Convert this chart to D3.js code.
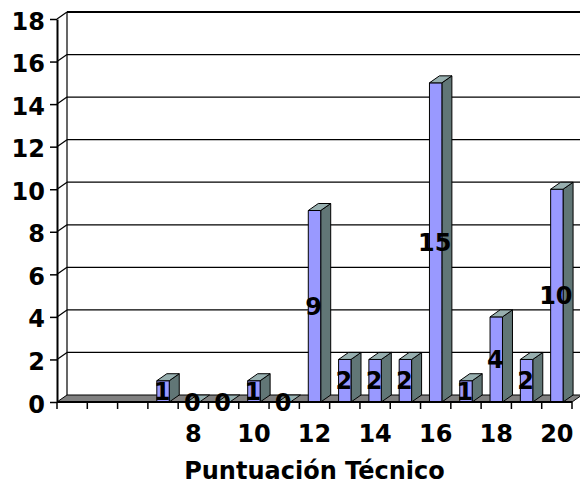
<!DOCTYPE html>
<html>
<head>
<meta charset="utf-8">
<script src="https://cdn.jsdelivr.net/npm/d3@7/dist/d3.min.js"></script>
<style>
  html, body { margin: 0; padding: 0; background: #fff; }
  svg { display: block; }
  text { font-family: "DejaVu Sans", Verdana, sans-serif; font-weight: bold; fill: #000; }
</style>
</head>
<body>
<script>
// Scores (categories) and how many times each was obtained
const scores = [4, 5, 6, 7, 8, 9, 10, 11, 12, 13, 14, 15, 16, 17, 18, 19, 20];
const counts = [null, null, null, 1, 0, 0, 1, 0, 9, 2, 2, 2, 15, 1, 4, 2, 10];
const xTickLabels = [8, 10, 12, 14, 16, 18, 20];
const yTicks = [0, 2, 4, 6, 8, 10, 12, 14, 16, 18];
const xTitle = "Puntuación Técnico";

const W = 580, H = 499;
const depthX = 10, depthY = -7;   // offset of the back wall from the front plane

const svg = d3.select("body").append("svg").attr("width", W).attr("height", H);

const x = d3.scaleBand().domain(scores).range([57, 572]).padding(0);
const y = d3.scaleLinear().domain([0, 18]).range([402, 19]);

const x0 = x.range()[0], x1 = x.range()[1];
const y0 = y(0);

// Back wall and left side wall with gridlines
const walls = svg.append("g").attr("fill", "none").attr("stroke", "#000");
yTicks.forEach(v => {
  if (v === 0) return;
  walls.append("line")
    .attr("x1", x0 + depthX).attr("x2", x1 + depthX)
    .attr("y1", y(v) + depthY).attr("y2", y(v) + depthY)
    .attr("stroke-width", v === 18 ? 2 : 1.3);
  walls.append("line")
    .attr("x1", x0).attr("y1", y(v))
    .attr("x2", x0 + depthX).attr("y2", y(v) + depthY)
    .attr("stroke-width", 1.2);
});
walls.append("line")
  .attr("x1", x0 + depthX).attr("x2", x0 + depthX)
  .attr("y1", y(0) + depthY).attr("y2", y(18) + depthY)
  .attr("stroke-width", 1.2);

// Floor
svg.append("path")
  .attr("d", `M${x0},${y0}L${x0 + depthX},${y0 + depthY}L${x1 + depthX},${y0 + depthY}L${x1},${y0}Z`)
  .attr("fill", "#808080").attr("stroke", "#000").attr("stroke-width", 1);

// Bars as 3D boxes
const barW = x.bandwidth() * 0.41;
const bars = svg.append("g").attr("stroke", "#000").attr("stroke-width", 1).attr("stroke-linejoin", "round");
const data = scores.map((s, i) => ({ s, v: counts[i] })).filter(d => d.v !== null);

data.forEach(d => {
  const l = x(d.s) + (x.bandwidth() - barW) / 2;
  const r = l + barW;
  const t = y(d.v);
  const g = bars.append("g");
  if (d.v > 0) {
    g.append("path")
      .attr("d", `M${r},${y0}L${r + depthX},${y0 + depthY}L${r + depthX},${t + depthY}L${r},${t}Z`)
      .attr("fill", "#617676");
    g.append("rect")
      .attr("x", l).attr("y", t).attr("width", barW).attr("height", y0 - t)
      .attr("fill", "#9999FF");
  }
  g.append("path")
    .attr("d", `M${l},${t}L${l + depthX},${t + depthY}L${r + depthX},${t + depthY}L${r},${t}Z`)
    .attr("fill", "#97AFAF");
});

// Front vertical axis
const yAxis = d3.axisLeft(y).tickValues(yTicks).tickSize(7).tickSizeOuter(0).tickPadding(5);
const yg = svg.append("g").attr("transform", `translate(${x0},0)`).call(yAxis);
yg.select(".domain").attr("stroke-width", 2);
yg.selectAll(".tick line").attr("stroke-width", 1.5);
yg.selectAll("text")
  .attr("font-size", 24).attr("font-family", "DejaVu Sans, Verdana, sans-serif")
  .attr("font-weight", "bold").attr("dy", "0.42em");

// Front horizontal axis: ticks at category boundaries, labels every other score
const xg = svg.append("g");
xg.append("line").attr("x1", x0).attr("x2", x1).attr("y1", y0).attr("y2", y0)
  .attr("stroke", "#000").attr("stroke-width", 2);
const bounds = scores.map(s => x(s)).concat([x1]);
xg.selectAll("line.tk").data(bounds).join("line").attr("class", "tk")
  .attr("x1", d => d).attr("x2", d => d).attr("y1", y0).attr("y2", y0 + 7)
  .attr("stroke", "#000").attr("stroke-width", 1.5);
const xAxis = d3.axisBottom(x).tickValues(xTickLabels).tickSize(0).tickPadding(23);
const xl = svg.append("g").attr("transform", `translate(0,${y0})`).call(xAxis);
xl.select(".domain").remove();
xl.selectAll("text")
  .attr("font-size", 24).attr("font-family", "DejaVu Sans, Verdana, sans-serif")
  .attr("font-weight", "bold");

// Value labels in the middle of each bar's front face
svg.append("g").selectAll("text").data(data).join("text")
  .attr("x", d => x(d.s) + x.bandwidth() / 2 - 1)
  .attr("y", d => (y0 + y(d.v)) / 2)
  .attr("dy", "0.36em")
  .attr("text-anchor", "middle")
  .attr("font-size", 24)
  .text(d => d.v);

// Axis title
svg.append("text")
  .attr("x", (x0 + x1) / 2).attr("y", 479)
  .attr("text-anchor", "middle").attr("font-size", 24)
  .text(xTitle);
</script>
</body>
</html>
